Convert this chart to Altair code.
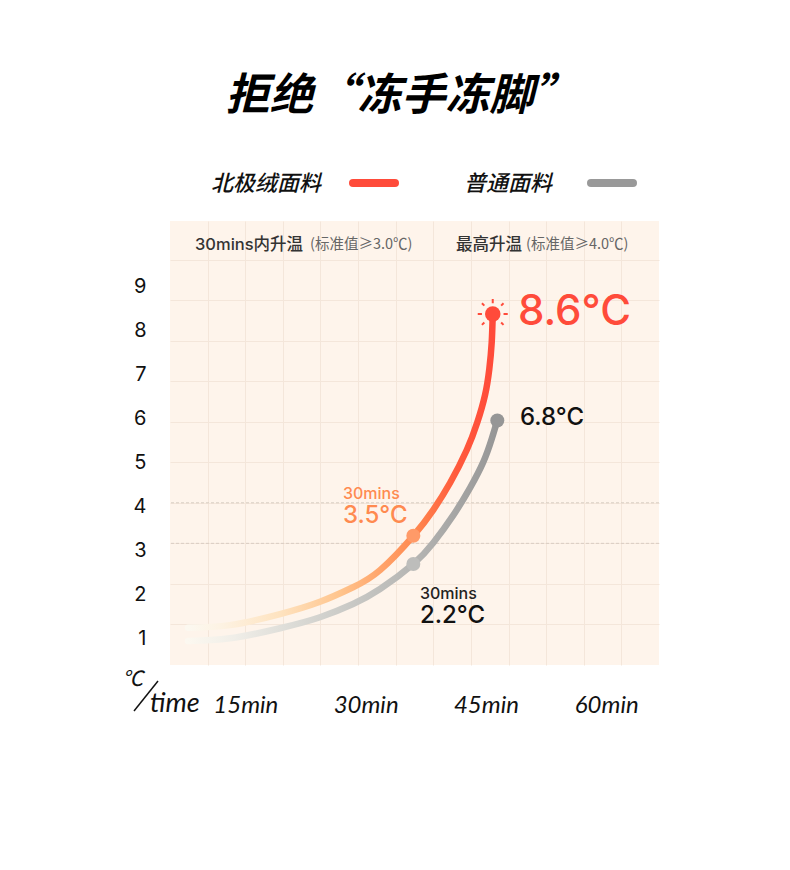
import altair as alt
import pandas as pd

# ---- data ----
red_minutes = [7.86, 13.09, 19.33, 24.31, 28.43, 31.80, 35.95, 38.44, 40.52, 42.61, 43.93, 44.89, 45.42, 45.72, 45.85]
red_values = [1.21, 1.27, 1.52, 1.80, 2.13, 2.52, 3.30, 3.89, 4.50, 5.25, 5.88, 6.50, 7.09, 7.69, 8.34]
gray_minutes = [7.86, 13.09, 19.33, 24.31, 28.43, 31.80, 35.95, 38.44, 40.94, 43.02, 44.68, 45.72, 46.42]
gray_values = [0.91, 0.97, 1.20, 1.45, 1.75, 2.09, 2.66, 3.14, 3.77, 4.39, 4.98, 5.50, 5.92]
y_ticks = [1, 2, 3, 4, 5, 6, 7, 8, 9]
x_ticks = [15, 30, 45, 60]
grid_x = list(range(1, 13))
grid_y = list(range(1, 11))
dashed_y = [3, 4]
dots = [
    {"m": 35.95, "v": 3.30, "c": "#FF9A68", "s": 196},
    {"m": 35.95, "v": 2.66, "c": "#BDBDBB", "s": 196},
    {"m": 46.42, "v": 5.92, "c": "#969696", "s": 196},
    {"m": 45.85, "v": 8.34, "c": "#FF4B3A", "s": 240},
]

PANEL_X, PANEL_Y, PANEL_W, PANEL_H = 170, 221, 489, 444
OFF = 8
SANS = "Noto Sans CJK SC"
LATIN = "Inter"
MIXED = "Inter, Noto Sans CJK SC"
ITALIC = "Lato"


def px(v):
    return v - PANEL_X


def py(v):
    return v - PANEL_Y


def label(text, x, y, size, color="#111111", align="left", font=SANS, weight="normal", style="normal"):
    return alt.Chart(pd.DataFrame({"t": [text]})).mark_text(
        align=align, baseline="middle", fontSize=size, color=color, font=font,
        fontWeight=weight, fontStyle=style,
    ).encode(x=alt.value(px(x)), y=alt.value(py(y)), text="t:N")


def seg(x1, x2, y1, y2, color, width, cap="round"):
    return alt.Chart(pd.DataFrame({"a": [0]})).mark_rule(
        color=color, strokeWidth=width, strokeCap=cap
    ).encode(x=alt.value(px(x1)), x2=alt.value(px(x2)), y=alt.value(py(y1)), y2=alt.value(py(y2)))


x_scale = alt.Scale(domain=[5.61, 66.58], nice=False, zero=False)
y_scale = alt.Scale(domain=[0.364, 10.455], nice=False, zero=False)

# ---- background grid on its own scale ----
grid_df = pd.DataFrame({"gx": [1], "gy": [1]})
grid_axis_common = dict(labels=False, ticks=False, domain=False, grid=True,
                        gridColor="#F4E6DA", gridWidth=1, title=None)
grid_y_scale = alt.Scale(domain=[0, 10.95], nice=False)
grid_layer = alt.Chart(grid_df).mark_point(opacity=0).encode(
    x=alt.X("gx:Q", scale=alt.Scale(domain=[0, 13], nice=False),
            axis=alt.Axis(values=grid_x, orient="bottom", **grid_axis_common)),
    y=alt.Y("gy:Q", scale=grid_y_scale,
            axis=alt.Axis(values=grid_y, orient="left", **grid_axis_common)),
)
dash_layer = alt.Chart(pd.DataFrame({"gy": dashed_y})).mark_rule(
    color="#D8CDC2", strokeWidth=1, strokeDash=[3, 2]
).encode(y=alt.Y("gy:Q", scale=grid_y_scale,
                 axis=alt.Axis(values=grid_y, orient="left", **grid_axis_common)))
background = alt.layer(grid_layer, dash_layer)

# ---- curves ----
red_grad = alt.LinearGradient(
    gradient="linear", x1=0, x2=1, y1=0, y2=0,
    stops=[
        alt.GradientStop(offset=0, color="#FCF8F0"),
        alt.GradientStop(offset=0.10, color="#FDF3E4"),
        alt.GradientStop(offset=0.30, color="#FEE3C0"),
        alt.GradientStop(offset=0.50, color="#FFC48C"),
        alt.GradientStop(offset=0.74, color="#FF8A50"),
        alt.GradientStop(offset=0.88, color="#FF5A3C"),
        alt.GradientStop(offset=1, color="#FF4B3A"),
    ],
)
gray_grad = alt.LinearGradient(
    gradient="linear", x1=0, x2=1, y1=0, y2=0,
    stops=[
        alt.GradientStop(offset=0, color="#FCF8F0"),
        alt.GradientStop(offset=0.15, color="#F0EEE8"),
        alt.GradientStop(offset=0.45, color="#D0D0CC"),
        alt.GradientStop(offset=0.74, color="#B4B4B2"),
        alt.GradientStop(offset=1, color="#969696"),
    ],
)

x_enc = alt.X("m:Q", scale=x_scale, axis=alt.Axis(
    values=x_ticks, labelExpr="datum.value + 'min'", title=None, ticks=False, domain=False,
    grid=False, labelFont=ITALIC, labelFontStyle="italic", labelFontSize=24, labelColor="#111111",
    labelPadding=28, orient="bottom", labelFlush=False, labelOverlap=False,
))
y_enc = alt.Y("v:Q", scale=y_scale, axis=alt.Axis(
    values=y_ticks, title=None, ticks=False, domain=False, grid=False, labelFont=LATIN,
    labelFontSize=20, labelColor="#111111", labelPadding=24, orient="left", format="d",
    labelFlush=False, labelOverlap=False, labelOffset=1,
))

gray_line = alt.Chart(pd.DataFrame({"m": gray_minutes, "v": gray_values})).mark_line(
    color=gray_grad, strokeWidth=6.5, strokeCap="round", interpolate="natural"
).encode(x=x_enc, y=y_enc)
red_line = alt.Chart(pd.DataFrame({"m": red_minutes, "v": red_values})).mark_line(
    color=red_grad, strokeWidth=6.5, strokeCap="round", interpolate="natural"
).encode(x=x_enc, y=y_enc)

dot_layer = alt.Chart(pd.DataFrame(dots)).mark_point(filled=True, opacity=1, strokeWidth=0).encode(
    x=x_enc, y=y_enc,
    color=alt.Color("c:N", scale=None),
    size=alt.Size("s:Q", scale=None),
)
RAYS = ("M0,-1L0,-0.72M0,1L0,0.72M-1,0L-0.72,0M1,0L0.72,0"
        "M-0.72,-0.72L-0.56,-0.56M0.72,-0.72L0.56,-0.56M-0.72,0.72L-0.56,0.56M0.72,0.72L0.56,0.56")
rays = alt.Chart(pd.DataFrame({"m": [45.85], "v": [8.34]})).mark_point(
    shape=RAYS, size=900, stroke="#FF4B3A", strokeWidth=2, opacity=1
).encode(x=x_enc, y=y_enc)

main = alt.layer(gray_line, red_line, dot_layer, rays)

# ---- text and legend ----
texts = [
    label("北极绒面料", 211, 184, 22, style="italic", weight=500),
    seg(353, 395, 183, 183, "#FF4B3A", 8),
    label("普通面料", 464, 184, 22, style="italic", weight=500),
    seg(591, 633, 183, 183, "#999999", 8),
    label("30mins内升温", 195, 245, 16.5, color="#333333", font=MIXED, weight=500),
    label("(标准值≥3.0℃)", 310, 245, 14.5, color="#666666"),
    label("最高升温", 456, 245, 16.5, color="#333333", weight=500),
    label("(标准值≥4.0℃)", 526, 245, 14.5, color="#666666"),
    label("8.6°C", 518, 312, 42, color="#FF4B3A", font=LATIN, weight=500),
    label("6.8°C", 520, 418, 24, font=LATIN, weight=500),
    label("30mins", 343, 494, 16, color="#FF8A50", font=LATIN, weight=500),
    label("3.5°C", 343, 516, 24, color="#FF8A50", font=LATIN, weight=500),
    label("30mins", 420, 594, 16, color="#222222", font=LATIN, weight=500),
    label("2.2°C", 420, 616, 24, color="#111111", font=LATIN, weight=500),
    label("℃", 122, 680, 21, style="italic"),
    seg(134, 158, 711, 681, "#111111", 1.5, cap="butt"),
    label("time", 150, 704, 27, font=ITALIC, style="italic"),
]

chart = (
    alt.layer(background, main, *texts)
    .resolve_scale(x="independent", y="independent")
    .properties(
        width=PANEL_W,
        height=PANEL_H,
        background="#FFFFFF",
        autosize=alt.AutoSizeParams(type="none"),
        padding={"left": PANEL_X - OFF, "top": PANEL_Y - OFF,
                 "right": 774 - (PANEL_X - OFF) - PANEL_W,
                 "bottom": 854 - (PANEL_Y - OFF) - PANEL_H},
        title=alt.TitleParams(
            "拒绝“冻手冻脚”", font=SANS, fontSize=44, fontWeight="bold", fontStyle="italic",
            color="#000000", anchor="middle", dx=-13, offset=54,
        ),
    )
    .configure_view(fill="#FEF4EB", strokeWidth=0)
)

chart.save("out.html", embed_options={"renderer": "svg", "actions": False})
